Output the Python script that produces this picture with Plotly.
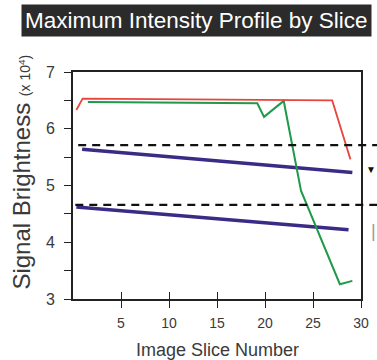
import plotly.graph_objects as go

# ---- data ----
red_x = [0.35, 1.0, 27.0, 28.9]
red_y = [6.33, 6.53, 6.50, 5.46]

green_x = [1.55, 19.2, 19.9, 21.95, 23.75, 27.8, 29.1]
green_y = [6.47, 6.45, 6.21, 6.49, 4.91, 3.26, 3.32]

purple_hi_x = [0.95, 29.1]
purple_hi_y = [5.64, 5.23]
purple_lo_x = [0.35, 28.7]
purple_lo_y = [4.62, 4.22]

thresholds = [5.71, 4.66]

x_ticks = [5, 10, 15, 20, 25, 30]
y_ticks = [3, 4, 5, 6, 7]

FONT = "Arial, Liberation Sans, sans-serif"
TXT = "#3a3a3a"

fig = go.Figure()
fig.add_trace(go.Scatter(x=purple_hi_x, y=purple_hi_y, mode="lines",
                         line=dict(color="#3b2a86", width=3.5)))
fig.add_trace(go.Scatter(x=purple_lo_x, y=purple_lo_y, mode="lines",
                         line=dict(color="#3b2a86", width=3.5)))
fig.add_trace(go.Scatter(x=green_x, y=green_y, mode="lines",
                         line=dict(color="#1f9a4a", width=2)))
fig.add_trace(go.Scatter(x=red_x, y=red_y, mode="lines", xaxis="x2",
                         line=dict(color="#e8453c", width=1.8)))

starts = [0.018, 0.008]
for t, s in zip(thresholds, starts):
    fig.add_shape(type="line", xref="paper", yref="y", x0=s, x1=1.06, y0=t, y1=t,
                  line=dict(color="#111111", width=2.2, dash="8px,6px"))

axis_common = dict(range=[0, 30], showgrid=False, zeroline=False, automargin=False)
fig.update_layout(
    width=377, height=360,
    margin=dict(l=73, r=16, t=72, b=61, autoexpand=False),
    plot_bgcolor="white", paper_bgcolor="white",
    showlegend=False,
    font=dict(family=FONT, color=TXT),
    xaxis=dict(**axis_common, tickvals=x_ticks, ticktext=[str(v) for v in x_ticks],
               ticks="outside", ticklen=7, tickwidth=1.3, tickcolor="#222",
               showline=True, linecolor="#222", linewidth=2, mirror=True,
               tickfont=dict(size=14, color=TXT), ticklabelstandoff=3),
    xaxis2=dict(**axis_common, overlaying="x", matches="x", tickvals=x_ticks[:-1],
                ticks="inside", ticklen=7, tickwidth=1.3, tickcolor="#222",
                showticklabels=False, showline=False),
    yaxis=dict(range=[3, 7], showgrid=False, zeroline=False, automargin=False, tickvals=y_ticks,
               ticks="outside", ticklen=7, tickwidth=1.3, tickcolor="#222",
               minor=dict(dtick=0.5, ticks="outside", ticklen=7, tickwidth=1.3, tickcolor="#222"),
               showline=True, linecolor="#222", linewidth=2, mirror=True,
               tickfont=dict(size=16, color=TXT), ticklabelstandoff=6),
)

# title box
fig.add_annotation(xref="paper", yref="paper", x=0.429, y=1.2247, xanchor="center", yanchor="middle",
                   text="Maximum Intensity Profile by Slice", showarrow=False,
                   font=dict(size=22.5, color="white", family=FONT),
                   bgcolor="#2b2b2b", borderpad=3)
# x axis title
fig.add_annotation(xref="paper", yref="paper", x=0.5, y=-0.225, xanchor="center", yanchor="middle",
                   text="Image Slice Number", showarrow=False,
                   font=dict(size=18, color=TXT, family=FONT))
# y axis title
fig.add_annotation(xref="paper", yref="paper", x=-0.177, y=0.557, xanchor="center", yanchor="middle",
                   textangle=-90, showarrow=False,
                   text="Signal Brightness <span style='font-size:14px'>(x 10<sup>4</sup>)</span>",
                   font=dict(size=24, color=TXT, family=FONT))
# marks on the right edge
fig.add_annotation(xref="paper", yref="paper", x=1.058, y=0.57, xanchor="right", yanchor="middle",
                   text="▼", showarrow=False, font=dict(size=10, color="#111"))
fig.add_annotation(xref="paper", yref="paper", x=1.058, y=0.30, xanchor="right", yanchor="middle",
                   text="|", showarrow=False, font=dict(size=18, color="#999"))

fig.write_html("out.html")
